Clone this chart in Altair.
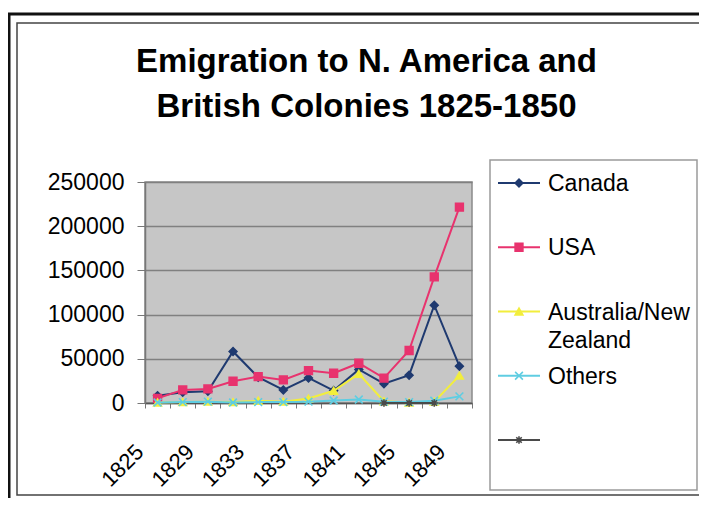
import altair as alt
import pandas as pd

# ---------------- data ----------------
years = ["1825", "1827", "1829", "1831", "1833", "1835", "1837",
         "1839", "1841", "1843", "1845", "1847", "1849"]
canada = [8300, 12100, 13300, 58300, 29200, 14800, 28400,
          14000, 37900, 21800, 31500, 110600, 41700]
usa = [5300, 14800, 15900, 24600, 29900, 26100, 36700,
       33700, 45000, 28200, 59400, 142700, 221500]
australia = [500, 1000, 1500, 1000, 2500, 1500, 5000,
             13800, 33000, 2000, 500, 1500, 31000]
others = [500, 1000, 1500, 500, 1000, 1000, 1500,
          2800, 4000, 1500, 1000, 2500, 7500]
unnamed_years = ["1843", "1845", "1847"]
unnamed = [0, 0, 0]

series_names = ["Canada", "USA", "Australia/New Zealand", "Others", " "]
series_labels = ["Canada", "USA", "Australia/New\nZealand", "Others", ""]
series_colors = ["#1f3a70", "#e8336e", "#f2ee3c", "#5fcde2", "#4a4a4a"]
series_shapes = [
    "diamond",
    "square",
    "triangle-up",
    "M-1,-1L1,1M-1,1L1,-1",
    "M-1,0L1,0M0,-1L0,1M-0.7,-0.7L0.7,0.7M-0.7,0.7L0.7,-0.7",
]
y_ticks = [0, 50000, 100000, 150000, 200000, 250000]
title_lines = ["Emigration to N. America and", "British Colonies 1825-1850"]

rows = []
for name, vals in zip(series_names[:4], [canada, usa, australia, others]):
    for yr, v in zip(years, vals):
        rows.append({"Year": yr, "Series": name, "Emigrants": v})
for yr, v in zip(unnamed_years, unnamed):
    rows.append({"Year": yr, "Series": series_names[4], "Emigrants": v})
df = pd.DataFrame(rows)

leg_df = pd.DataFrame({"Series": series_names, "Label": series_labels,
                       "idx": list(range(len(series_names)))})
one = pd.DataFrame({"a": [0]})

FONT = "Liberation Sans"
color_scale = alt.Scale(domain=series_names, range=series_colors)
shape_scale = alt.Scale(domain=series_names, range=series_shapes)

x_enc = alt.X(
    "Year:O",
    bandPosition=0.5,
    scale=alt.Scale(type="band", domain=years, paddingInner=0, paddingOuter=0),
    axis=alt.Axis(
        title=None, labelAngle=-45, labelAlign="right", labelBaseline="middle",
        labelFontSize=22, labelColor="black", labelPadding=40, labelOffset=-18,
        labelExpr="toNumber(datum.value) % 4 == 1 ? datum.label : ''",
        labelOverlap=False, tickBand="extent", tickSize=5, tickColor="#777777",
        domainColor="#555555", domainWidth=1.5, grid=False, labelFont=FONT,
    ),
)
y_enc = alt.Y(
    "Emigrants:Q",
    scale=alt.Scale(domain=[0, 250000], nice=False),
    axis=alt.Axis(
        title=None, values=y_ticks, format="d", labelFontSize=23,
        labelColor="black", labelPadding=13, tickSize=8, tickColor="#777777",
        domainColor="#777777", domainWidth=1.5, grid=True, gridColor="#808080",
        gridWidth=1.4, labelFont=FONT,
    ),
)

main_layers = []
for name in series_names:
    sub = alt.Chart(df).transform_filter(alt.datum.Series == name)
    line = sub.mark_line(strokeWidth=2).encode(
        x=x_enc, y=y_enc,
        color=alt.Color("Series:N", scale=color_scale, legend=None),
    )
    pts = sub.mark_point(filled=True, size=60, strokeWidth=1.6, opacity=1).encode(
        x=x_enc, y=y_enc,
        fill=alt.Fill("Series:N", scale=color_scale, legend=None),
        stroke=alt.Stroke("Series:N", scale=color_scale, legend=None),
        shape=alt.Shape("Series:N", scale=shape_scale, legend=None),
    )
    main_layers += [line, pts]
main = alt.layer(*main_layers)

# decorative frames around the chart
outer = alt.Chart(one).mark_rect(fillOpacity=0, stroke="#111111", strokeWidth=3).encode(
    x=alt.value(-136), x2=alt.value(600), y=alt.value(-168), y2=alt.value(400))
inner = alt.Chart(one).mark_rect(fillOpacity=0, stroke="#444444", strokeWidth=1.5).encode(
    x=alt.value(-128), x2=alt.value(600), y=alt.value(-159), y2=alt.value(313))

# legend (hand built)
leg_y = alt.Y("idx:Q", scale=alt.Scale(domain=[0, 4], range=[1, 258]), axis=None)
leg_box = alt.Chart(one).mark_rect(fill="white", stroke="#9a9a9a", strokeWidth=1.5).encode(
    x=alt.value(345), x2=alt.value(552), y=alt.value(-22), y2=alt.value(308))
leg_rule = alt.Chart(leg_df).mark_rule(strokeWidth=2).encode(
    x=alt.value(353), x2=alt.value(395), y=leg_y,
    color=alt.Color("Series:N", scale=color_scale, legend=None))
leg_pts = alt.Chart(leg_df).mark_point(filled=True, size=60, strokeWidth=1.6, opacity=1).encode(
    x=alt.value(374), y=leg_y,
    fill=alt.Fill("Series:N", scale=color_scale, legend=None),
    stroke=alt.Stroke("Series:N", scale=color_scale, legend=None),
    shape=alt.Shape("Series:N", scale=shape_scale, legend=None))
leg_txt = alt.Chart(leg_df).mark_text(
    align="left", baseline="top", dy=-10, fontSize=23, lineBreak="\n",
    lineHeight=28, font=FONT, color="black").encode(
    x=alt.value(403), y=leg_y, text="Label:N")
legend = alt.layer(leg_rule, leg_pts, leg_txt)

chart = alt.layer(outer, inner, main, leg_box, legend).resolve_scale(
    y="independent"
).properties(
    width=327, height=221,
    padding={"left": 137, "top": 174, "right": 227, "bottom": 95},
    autosize=alt.AutoSizeParams(type="none"),
    title=alt.TitleParams(
        title_lines, font=FONT, fontSize=33, fontWeight="bold", color="black",
        anchor="middle", frame="group", dx=58, offset=-111, lineHeight=45,
    ),
).configure(
    font=FONT, background="white"
).configure_view(
    fill="#c6c6c6", stroke="#8a8a8a", strokeWidth=1.5
)

chart.save("out.html", embed_options={"renderer": "svg", "actions": False})
